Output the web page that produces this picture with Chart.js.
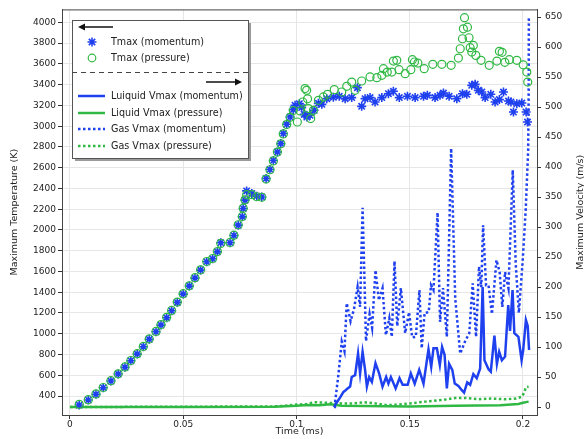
<!DOCTYPE html>
<html>
<head>
<meta charset="utf-8">
<script src="https://cdn.jsdelivr.net/npm/chart.js@4.4.1/dist/chart.umd.min.js"></script>
<style>
  html, body { margin: 0; padding: 0; background: #fff; }
  #wrap { width: 584px; height: 439px; position: relative; }
</style>
</head>
<body>
<div id="wrap"><canvas id="chart" width="584" height="439"></canvas></div>
<script>
// ---- axis ticks ----
const timeTicks = [0, 0.05, 0.1, 0.15, 0.2];
const timeLabels = ['0', '0.05', '0.1', '0.15', '0.2'];
const tempTicks = [400, 600, 800, 1000, 1200, 1400, 1600, 1800, 2000, 2200, 2400, 2600, 2800, 3000, 3200, 3400, 3600, 3800, 4000];
const velTicks = [0, 50, 100, 150, 200, 250, 300, 350, 400, 450, 500, 550, 600, 650];

// ---- Tmax (momentum), K ----
const tmaxMomTime = [0.0041, 0.0081, 0.0115, 0.0147, 0.0181, 0.0213, 0.0243, 0.0269, 0.0297, 0.0324, 0.0350, 0.0380, 0.0402, 0.0427, 0.0449, 0.0474, 0.0500, 0.0527, 0.0552, 0.0577, 0.0604, 0.0630, 0.0651, 0.0666, 0.0707, 0.0724, 0.0743, 0.0761, 0.0765, 0.0773, 0.0780, 0.0803, 0.0825, 0.0847, 0.0866, 0.0883, 0.0898, 0.0916, 0.0931, 0.0942, 0.0957, 0.0972, 0.0986, 0.0994,
  0.1013, 0.1023, 0.1034, 0.1046, 0.1060, 0.1078, 0.1097, 0.1112, 0.1134, 0.1163, 0.1189, 0.1215, 0.1244, 0.1269, 0.1288, 0.1303, 0.1325, 0.1347, 0.1377, 0.1406, 0.1428, 0.1454, 0.1490, 0.1524, 0.1561, 0.1578, 0.1612, 0.1634, 0.1649, 0.1674, 0.1708, 0.1733, 0.1752, 0.1774, 0.1789, 0.1803, 0.1818, 0.1833, 0.1858, 0.1877, 0.1896, 0.1914, 0.1936, 0.1947, 0.1958, 0.1973, 0.1995, 0.2014, 0.2020];
const tmaxMomVal = [313, 362, 416, 480, 544, 612, 676, 740, 804, 875, 946, 1019, 1083, 1154, 1221, 1302, 1382, 1459, 1536, 1613, 1693, 1722, 1789, 1876, 1876, 1947, 2046, 2126, 2207, 2287, 2376, 2351, 2325, 2318, 2495, 2582, 2669, 2751, 2832, 2929, 3018, 3088, 3159, 3201,
  3217, 3179, 3114, 3088, 3105, 3153, 3220, 3210, 3265, 3278, 3288, 3265, 3275, 3371, 3191, 3265, 3275, 3233, 3275, 3313, 3336, 3275, 3288, 3275, 3288, 3297, 3275, 3297, 3319, 3288, 3265, 3313, 3307, 3393, 3403, 3345, 3329, 3275, 3307, 3233, 3256, 3329, 3242, 3233, 3136, 3217, 3223, 3136, 3040];

// ---- Tmax (pressure), K ----
const tmaxPresTime = [0.0041, 0.0081, 0.0115, 0.0147, 0.0181, 0.0213, 0.0243, 0.0269, 0.0297, 0.0324, 0.0350, 0.0380, 0.0402, 0.0427, 0.0449, 0.0474, 0.0500, 0.0527, 0.0552, 0.0577, 0.0604, 0.0630, 0.0651, 0.0666, 0.0707, 0.0724, 0.0743, 0.0761, 0.0765, 0.0773, 0.0780, 0.0803, 0.0825, 0.0847, 0.0866, 0.0883, 0.0898, 0.0916, 0.0931, 0.0942, 0.0957, 0.0972, 0.0986,
  0.1004, 0.1016, 0.1028, 0.1038, 0.1045, 0.1049, 0.1053, 0.1063, 0.1075, 0.1097, 0.1119, 0.1137, 0.1167, 0.1200, 0.1222, 0.1244, 0.1259, 0.1288, 0.1325, 0.1355, 0.1377, 0.1384, 0.1401, 0.1421, 0.1428, 0.1443, 0.1453, 0.1480, 0.1505, 0.1512, 0.1521, 0.1536, 0.1564, 0.1602, 0.1642, 0.1683, 0.1715, 0.1723, 0.1733, 0.1737, 0.1742, 0.1755, 0.1762, 0.1767, 0.1774, 0.1781, 0.1792, 0.1815, 0.1851, 0.1885, 0.1896, 0.1908, 0.1920, 0.1940, 0.1973, 0.2001, 0.2017, 0.2021];
const tmaxPresVal = [320, 365, 420, 482, 548, 614, 680, 742, 808, 878, 950, 1022, 1088, 1158, 1225, 1305, 1386, 1462, 1540, 1616, 1696, 1725, 1792, 1870, 1880, 1950, 2050, 2130, 2210, 2290, 2340, 2340, 2320, 2315, 2490, 2580, 2665, 2750, 2830, 2925, 3015, 3085, 3150,
  3040, 3146, 3233, 3362, 3345, 3263, 3169, 3073, 3153, 3249, 3282, 3307, 3352, 3329, 3384, 3425, 3345, 3435, 3474, 3467, 3490, 3554, 3521, 3521, 3627, 3634, 3544, 3506, 3544, 3641, 3618, 3608, 3554, 3596, 3596, 3586, 3656, 3746, 3842, 3938, 4045, 3954, 3852, 3756, 3714, 3778, 3682, 3634, 3586, 3627, 3721, 3711, 3615, 3641, 3634, 3591, 3521, 3425];

// ---- Liquid Vmax (momentum), m/s ----
const liqMomTime = [0.1166, 0.1170, 0.1193, 0.1207, 0.1217, 0.1226, 0.1237, 0.1244, 0.1259, 0.1272, 0.1281, 0.1292, 0.1303, 0.1311, 0.1321, 0.1333, 0.1349, 0.1365, 0.1380, 0.1396, 0.1406, 0.1417, 0.1438, 0.1455, 0.1469, 0.1491, 0.1505, 0.1522, 0.1542, 0.1561, 0.1583, 0.1595, 0.1605, 0.1620, 0.1633, 0.1643, 0.1654, 0.1664, 0.1674, 0.1688, 0.1699, 0.1715, 0.1730, 0.1740, 0.1754, 0.1767, 0.1781, 0.1796, 0.1811, 0.1822, 0.1830, 0.1848, 0.1858, 0.1874, 0.1885, 0.1895, 0.1907, 0.1921, 0.1935, 0.1943, 0.1954, 0.1962, 0.1980, 0.1994, 0.2001, 0.2013, 0.2021, 0.2027];
const liqMomVal = [0, 3, 16, 25, 28, 31, 34, 50, 53, 89, 56, 92, 62, 34, 50, 42, 73, 56, 34, 50, 39, 50, 31, 48, 37, 37, 56, 39, 62, 39, 96, 67, 98, 98, 70, 100, 87, 31, 72, 62, 39, 35, 28, 24, 41, 37, 55, 48, 64, 200, 78, 63, 59, 119, 72, 92, 78, 84, 170, 127, 195, 123, 117, 78, 95, 145, 135, 95];

// ---- Liquid Vmax (pressure), m/s ----
const liqPresTime = [0, 0.05, 0.09, 0.1, 0.105, 0.11, 0.115, 0.12, 0.15, 0.17, 0.19, 0.198, 0.2, 0.2025];
const liqPresVal = [0, 0, 0.5, 2, 3.5, 3, 4.5, 2, 1, 2, 3, 5, 7, 9];

// ---- Gas Vmax (momentum), m/s ----
const gasMomTime = [0.1166, 0.1170, 0.1185, 0.1200, 0.1212, 0.1222, 0.1239, 0.1254, 0.1270, 0.1281, 0.1292, 0.1300, 0.1307, 0.1323, 0.1334, 0.1349, 0.1364, 0.1380, 0.1395, 0.1410, 0.1421, 0.1433, 0.1445, 0.1461, 0.1480, 0.1497, 0.1511, 0.1527, 0.1543, 0.1553, 0.1566, 0.1584, 0.1594, 0.1605, 0.1623, 0.1634, 0.1647, 0.1664, 0.1683, 0.1701, 0.1723, 0.1745, 0.1763, 0.1778, 0.1793, 0.1806, 0.1816, 0.1824, 0.1837, 0.1848, 0.1863, 0.1883, 0.1897, 0.1909, 0.1921, 0.1936, 0.1955, 0.1968, 0.1982, 0.1999, 0.2012, 0.2023, 0.2025, 0.2026];
const gasMomVal = [0, 6, 53, 109, 93, 173, 143, 163, 200, 167, 332, 217, 110, 155, 132, 228, 178, 198, 120, 148, 117, 243, 135, 198, 123, 158, 116, 117, 195, 98, 157, 158, 203, 195, 324, 142, 198, 117, 431, 181, 89, 110, 123, 206, 117, 234, 200, 303, 203, 203, 155, 245, 225, 167, 225, 198, 395, 239, 157, 245, 328, 428, 511, 648];

// ---- Gas Vmax (pressure), m/s ----
const gasPresTime = [0, 0.05, 0.09, 0.095, 0.1, 0.1045, 0.108, 0.113, 0.12, 0.125, 0.13, 0.135, 0.14, 0.145, 0.15, 0.157, 0.165, 0.17, 0.175, 0.18, 0.186, 0.192, 0.197, 0.1995, 0.2005, 0.2013, 0.2025];
const gasPresVal = [0, 0.5, 1, 2, 4, 5, 8, 7, 6, 6, 8, 6, 3, 4, 6, 9, 12, 15, 15, 13, 14, 13, 14, 17, 24, 33, 34];

const BLUE = '#1f40ee';
const GREEN = '#30b844';
const FONT = '"DejaVu Sans", sans-serif';

function pts(xs, ys) {
  return xs.map((x, i) => ({ x: x, y: ys[i] }));
}

function drawArrow(ctx, x1, x2, y) {
  // head at x2
  const dir = x2 > x1 ? 1 : -1;
  ctx.beginPath();
  ctx.moveTo(x1, y);
  ctx.lineTo(x2 - dir * 5, y);
  ctx.stroke();
  ctx.beginPath();
  ctx.moveTo(x2, y);
  ctx.lineTo(x2 - dir * 7, y - 3.5);
  ctx.lineTo(x2 - dir * 7, y + 3.5);
  ctx.closePath();
  ctx.fill();
}

const overlay = {
  id: 'overlay',
  afterDraw(chart) {
    const ctx = chart.ctx;
    const a = chart.chartArea;
    ctx.save();

    // top frame line
    ctx.strokeStyle = '#444';
    ctx.lineWidth = 1;
    ctx.beginPath();
    ctx.moveTo(a.left, a.top + 0.5);
    ctx.lineTo(a.right, a.top + 0.5);
    ctx.stroke();

    // axis titles
    ctx.fillStyle = '#222';
    ctx.font = '9.5px ' + FONT;
    ctx.textAlign = 'center';
    ctx.textBaseline = 'middle';
    const cy = (a.top + a.bottom) / 2;
    ctx.save();
    ctx.translate(15, cy);
    ctx.rotate(-Math.PI / 2);
    ctx.fillText('Maximum Temperature (K)', 0, 0);
    ctx.restore();
    ctx.save();
    ctx.translate(581, cy);
    ctx.rotate(-Math.PI / 2);
    ctx.fillText('Maximum Velocity (m/s)', 0, 0);
    ctx.restore();
    ctx.fillText('Time (ms)', (a.left + a.right) / 2, 432);

    // legend box
    const bx = 72, by = 20, bw = 176, bh = 138;
    ctx.fillStyle = '#9a9a9a';
    ctx.fillRect(bx + 3, by + 3, bw, bh);
    ctx.fillStyle = '#fff';
    ctx.fillRect(bx, by, bw, bh);
    ctx.strokeStyle = '#555';
    ctx.strokeRect(bx + 0.5, by + 0.5, bw, bh);

    ctx.strokeStyle = '#111';
    ctx.fillStyle = '#111';
    ctx.lineWidth = 1.5;
    drawArrow(ctx, 113, 78, 27);
    drawArrow(ctx, 206, 242, 82);

    // separator
    ctx.strokeStyle = '#444';
    ctx.lineWidth = 1;
    ctx.setLineDash([5, 4]);
    ctx.beginPath();
    ctx.moveTo(bx, 72.5);
    ctx.lineTo(bx + bw, 72.5);
    ctx.stroke();
    ctx.setLineDash([]);

    // star sample
    ctx.strokeStyle = BLUE;
    ctx.lineWidth = 1.6;
    const sx = 92, sy = 42, r = 4.5;
    ctx.beginPath();
    for (let k = 0; k < 4; k++) {
      const ang = k * Math.PI / 4;
      ctx.moveTo(sx - r * Math.cos(ang), sy - r * Math.sin(ang));
      ctx.lineTo(sx + r * Math.cos(ang), sy + r * Math.sin(ang));
    }
    ctx.stroke();
    // circle sample
    ctx.strokeStyle = GREEN;
    ctx.lineWidth = 1.2;
    ctx.beginPath();
    ctx.arc(92, 58, 3.8, 0, Math.PI * 2);
    ctx.stroke();

    // line samples
    const lines = [
      { y: 96, c: BLUE, dash: [] },
      { y: 113, c: GREEN, dash: [] },
      { y: 129, c: BLUE, dash: [2.5, 2.5] },
      { y: 146, c: GREEN, dash: [2.5, 2.5] }
    ];
    ctx.lineWidth = 2.5;
    lines.forEach(l => {
      ctx.strokeStyle = l.c;
      ctx.setLineDash(l.dash);
      ctx.beginPath();
      ctx.moveTo(78, l.y);
      ctx.lineTo(105, l.y);
      ctx.stroke();
    });
    ctx.setLineDash([]);

    ctx.fillStyle = '#222';
    ctx.font = '9.6px ' + FONT;
    ctx.textAlign = 'left';
    ctx.fillText('Tmax (momentum)', 111, 42);
    ctx.fillText('Tmax (pressure)', 111, 58);
    ctx.fillText('Luiquid Vmax (momentum)', 111, 96);
    ctx.fillText('Liquid Vmax (pressure)', 111, 113);
    ctx.fillText('Gas Vmax (momentum)', 111, 129);
    ctx.fillText('Gas Vmax (pressure)', 111, 146);

    ctx.restore();
  }
};

const tickFont = { family: FONT, size: 9 };

new Chart(document.getElementById('chart'), {
  type: 'scatter',
  data: {
    // first dataset is painted last (on top)
    datasets: [
      {
        label: 'Tmax (pressure)',
        data: pts(tmaxPresTime, tmaxPresVal),
        yAxisID: 'yT',
        pointStyle: 'circle',
        pointRadius: 4,
        pointBorderWidth: 1.2,
        borderColor: GREEN,
        backgroundColor: 'rgba(0,0,0,0)',
        showLine: false
      },
      {
        label: 'Tmax (momentum)',
        data: pts(tmaxMomTime, tmaxMomVal),
        yAxisID: 'yT',
        pointStyle: 'star',
        pointRadius: 4.5,
        pointBorderWidth: 1.6,
        borderColor: BLUE,
        backgroundColor: BLUE,
        showLine: false
      },
      {
        label: 'Luiquid Vmax (momentum)',
        data: pts(liqMomTime, liqMomVal),
        yAxisID: 'yV',
        showLine: true,
        pointRadius: 0,
        borderColor: BLUE,
        borderWidth: 2.5
      },
      {
        label: 'Liquid Vmax (pressure)',
        data: pts(liqPresTime, liqPresVal),
        yAxisID: 'yV',
        showLine: true,
        pointRadius: 0,
        borderColor: GREEN,
        borderWidth: 2.5
      },
      {
        label: 'Gas Vmax (momentum)',
        data: pts(gasMomTime, gasMomVal),
        yAxisID: 'yV',
        showLine: true,
        pointRadius: 0,
        borderColor: BLUE,
        borderWidth: 2.5,
        borderDash: [2.5, 2.5]
      },
      {
        label: 'Gas Vmax (pressure)',
        data: pts(gasPresTime, gasPresVal),
        yAxisID: 'yV',
        showLine: true,
        pointRadius: 0,
        borderColor: GREEN,
        borderWidth: 2.5,
        borderDash: [2.5, 2.5]
      }
    ]
  },
  options: {
    responsive: false,
    devicePixelRatio: 1,
    animation: false,
    layout: { padding: { top: 9, left: 0, right: 0, bottom: 0 } },
    plugins: {
      legend: { display: false },
      tooltip: { enabled: false }
    },
    scales: {
      x: {
        type: 'linear',
        min: -0.0035,
        max: 0.2062,
        afterBuildTicks: s => { s.ticks = timeTicks.map(v => ({ value: v })); },
        afterFit: s => { s.height = 24; },
        ticks: {
          callback: (v, i) => timeLabels[i],
          font: tickFont,
          color: '#222',
          padding: 0,
          maxRotation: 0,
          autoSkip: false
        },
        grid: { color: '#e6e6e6', tickColor: '#333', tickLength: 4 },
        border: { color: '#444' }
      },
      yT: {
        type: 'linear',
        position: 'left',
        min: 217,
        max: 4125,
        afterBuildTicks: s => { s.ticks = tempTicks.map(v => ({ value: v })); },
        afterFit: s => { s.width = 62; },
        ticks: {
          callback: v => String(v),
          font: tickFont,
          color: '#222',
          padding: 2,
          autoSkip: false
        },
        grid: { color: '#e6e6e6', tickColor: '#333', tickLength: 4 },
        border: { color: '#444' }
      },
      yV: {
        type: 'linear',
        position: 'right',
        min: -13.3,
        max: 662.7,
        afterBuildTicks: s => { s.ticks = velTicks.map(v => ({ value: v })); },
        afterFit: s => { s.width = 47; },
        ticks: {
          callback: v => String(v),
          font: tickFont,
          color: '#222',
          padding: 4,
          autoSkip: false
        },
        grid: { drawOnChartArea: false, tickColor: '#333', tickLength: 4 },
        border: { color: '#444' }
      }
    }
  },
  plugins: [overlay]
});
</script>
</body>
</html>
